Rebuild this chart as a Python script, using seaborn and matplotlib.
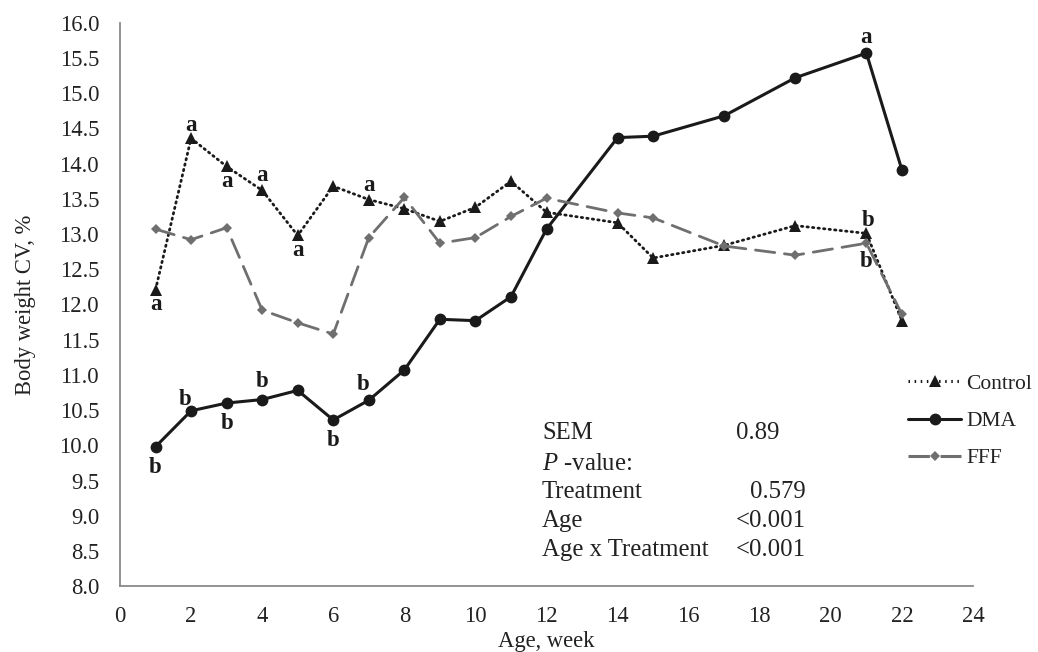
import numpy as np
import pandas as pd
import matplotlib
matplotlib.use("Agg")
import matplotlib.pyplot as plt
import seaborn as sns

# ---------- data ----------
weeks = [1, 2, 3, 4, 5, 6, 7, 8, 9, 10, 11, 12, 14, 15, 17, 19, 21, 22]

control = [12.21, 14.36, 13.96, 13.62, 12.98, 13.68, 13.49, 13.36, 13.18, 13.38,
           13.75, 13.31, 13.16, 12.66, 12.84, 13.12, 13.01, 11.77]
dma = [9.98, 10.49, 10.60, 10.65, 10.78, 10.36, 10.64, 11.07, 11.79, 11.77,
       12.11, 13.07, 14.37, 14.39, 14.68, 15.22, 15.57, 13.91]
fff = [13.07, 12.92, 13.09, 11.92, 11.74, 11.58, 12.95, 13.52, 12.87, 12.95,
       13.25, 13.51, 13.30, 13.23, 12.83, 12.70, 12.87, 11.86]

groups = ["Control", "DMA", "FFF"]

# significance letters: group, week, letter, dx (pt), dy (pt)
let_group = ["Control", "Control", "Control", "Control", "Control", "Control", "Control",
             "DMA", "DMA", "DMA", "DMA", "DMA", "DMA", "DMA", "FFF"]
let_week = [1, 2, 3, 4, 5, 7, 21, 1, 2, 3, 4, 6, 7, 21, 21]
let_text = ["a", "a", "a", "a", "a", "a", "b", "b", "b", "b", "b", "b", "b", "a", "b"]
let_dx = [0, 0, 0, 0, 0, 0, 1, 0, -4, 0, 0, 0, -4, 0, 0]
let_dy = [-11, 9, -11, 11, -11, 10, 9, -15, 8, -15, 13, -15, 11, 11, -13]

stats_lab = ["SEM", "$\\it{P}$ -value:", "Treatment", "Age", "Age x Treatment"]
stats_val = ["0.89", "", "0.579", "<0.001", "<0.001"]

df = pd.DataFrame({
    "week": weeks * 3,
    "cv": control + dma + fff,
    "group": np.repeat(groups, len(weeks)),
})

# ---------- plot ----------
sns.set_style("white")
plt.rcParams["font.family"] = ["Liberation Serif", "DejaVu Serif"]
plt.rcParams["mathtext.fontset"] = "custom"
plt.rcParams["mathtext.it"] = "Liberation Serif:italic"
plt.rcParams["mathtext.rm"] = "Liberation Serif"

fig = plt.figure(figsize=(10.38, 6.52), dpi=100)
ax = fig.add_axes([0.1156, 0.101, 0.8218, 0.864])

palette = {"Control": "#1a1a1a", "DMA": "#1a1a1a", "FFF": "#6f6f6f"}
markers = {"Control": "^", "DMA": "o", "FFF": "D"}
dashes = {"Control": (0.5, 1.5), "DMA": "", "FFF": (7, 3.5)}

sns.lineplot(
    data=df, x="week", y="cv", hue="group", style="group",
    palette=palette, markers=markers, dashes=dashes,
    linewidth=2, markeredgewidth=0, ax=ax, legend=True
)

sizes = {"Control": 8.5, "DMA": 8.5, "FFF": 5.5}
for line, g in zip(ax.get_lines()[:3], groups):
    line.set_markersize(sizes[g])
    line.set_dash_capstyle("round")
    if g == "DMA":
        line.set_linewidth(2.2)

fs = 16.3
ax.set_xlim(0, 24)
ax.set_ylim(8, 16)
ax.set_xticks(np.arange(0, 25, 2))
ax.set_yticks(np.arange(8, 16.01, 0.5))
ax.set_yticklabels([f"{v:.1f}" for v in np.arange(8, 16.01, 0.5)])
ax.tick_params(axis="y", length=0, labelsize=fs, pad=15, colors="#222222")
ax.tick_params(axis="x", length=0, labelsize=fs, pad=14, colors="#222222")

ax.set_xlabel("Age, week", fontsize=fs, labelpad=3, color="#222222")
ax.set_ylabel("Body weight CV, %", fontsize=fs, labelpad=17, color="#222222")

sns.despine(ax=ax)
for s in ["left", "bottom"]:
    ax.spines[s].set_color("#8a8a8a")
    ax.spines[s].set_linewidth(1.3)

# letters
series = {"Control": control, "DMA": dma, "FFF": fff}
for g, w, t, dx, dy in zip(let_group, let_week, let_text, let_dx, let_dy):
    yv = series[g][weeks.index(w)]
    ax.annotate(t, (w, yv), xytext=(dx, dy), textcoords="offset points",
                ha="center", va="center", fontsize=16.5, fontweight="bold",
                color="#1a1a1a")

# stats block
sfs = 17.8
row_y = [10.17, 9.74, 9.34, 8.92, 8.51]
for lab, val, yy in zip(stats_lab, stats_val, row_y):
    ax.text(11.87, yy, lab, fontsize=sfs, va="center", ha="left", color="#222222")
    if val == "0.89":
        ax.text(17.33, yy, val, fontsize=sfs, va="center", ha="left", color="#222222")
    elif val:
        ax.text(19.3, yy, val, fontsize=sfs, va="center", ha="right", color="#222222")

# legend
handles, labels = ax.get_legend_handles_labels()
ax.get_legend().remove()
leg = ax.legend(handles, labels, loc="center left",
                bbox_to_anchor=(889 / 1038, 1 - 421 / 652),
                bbox_transform=fig.transFigure, frameon=False,
                fontsize=15.5, handlelength=2.45, handletextpad=0.25,
                labelspacing=0.8)
for h, g in zip(leg.legend_handles, groups):
    h.set_markersize(sizes[g])
    h.set_linewidth(2.2)
for t in leg.get_texts():
    t.set_color("#222222")

fig.savefig("out.png", dpi=100)
